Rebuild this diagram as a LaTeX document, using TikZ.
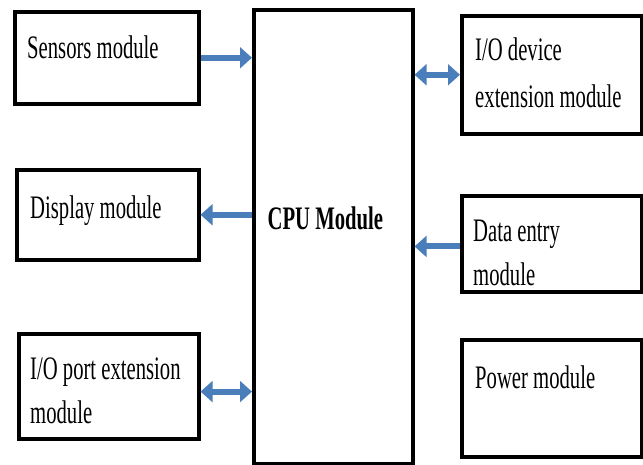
\documentclass[tikz,border=0pt]{standalone}
\usepackage{fontspec}
\setmainfont{Liberation Serif}[FakeStretch=0.63]
\usetikzlibrary{positioning,arrows.meta}
\definecolor{linkblue}{RGB}{74,126,187}
\tikzset{
    modbox/.style={draw, line width=3pt, minimum width=5.4cm, anchor=north west, inner sep=0pt},
    modlabel/.style={anchor=north west, align=left, inner sep=0pt, font=\fontsize{28}{37}\selectfont},
    flow/.style={draw=linkblue, line width=5pt, -{Triangle[length=0.36cm, width=0.62cm]}},
    flowboth/.style={draw=linkblue, line width=5pt, {Triangle[length=0.36cm, width=0.62cm]}-{Triangle[length=0.36cm, width=0.62cm]}}
}

\begin{document}
\begin{tikzpicture}
    \useasboundingbox (0,0) rectangle (19.29,-13.95);

    % left column
    \node[modbox, minimum width=5.52cm, minimum height=2.76cm] (sensors) at (0.39,-0.30) {};
    \node[modbox, minimum width=5.46cm, minimum height=2.70cm] (display) at (0.45,-5.04) {};
    \node[modbox, minimum width=5.40cm, minimum height=3.15cm] (ioport) at (0.51,-9.96) {};

    % centre
    \node[modbox, minimum width=4.77cm, minimum height=13.62cm] (cpu) at (7.56,-0.24) {};

    % right column
    \node[modbox, minimum height=3.54cm] (iodev) at (13.80,-0.42) {};
    \node[modbox, minimum height=2.88cm] (dataentry) at (13.80,-5.82) {};
    \node[modbox, minimum height=3.51cm] (power) at (13.80,-10.14) {};

    % texts
    \node[modlabel] (sensorstext) at ([xshift=0.42cm, yshift=-0.78cm]sensors.north west) {Sensors module};
    \node[modlabel] (displaytext) at ([xshift=0.45cm, yshift=-0.84cm]display.north west) {Display module};
    \node[modlabel] (ioporttext) at ([xshift=0.39cm, yshift=-0.78cm]ioport.north west) {I/O port extension\\module};
    \node[modlabel, font=\fontsize{28}{37}\selectfont\bfseries, anchor=center] (cputext) at (9.76,-6.54) {CPU Module};
    \node[modlabel] (iodevtext) at ([xshift=0.45cm, yshift=-0.72cm]iodev.north west) {I/O device\\[0.1cm]extension module};
    \node[modlabel] (dataentrytext) at ([xshift=0.39cm, yshift=-0.78cm]dataentry.north west) {Data entry\\module};
    \node[modlabel] (powertext) at ([xshift=0.45cm, yshift=-0.84cm]power.north west) {Power module};

    % links
    \draw[flow] (sensors.east) -- (sensors.east -| cpu.west);
    \draw[flowboth] (iodev.west -| cpu.east) -- (iodev.west);
    \draw[flow] (display.east -| cpu.west) -- (display.east);
    \draw[flow] ([yshift=-0.08cm]dataentry.west) -- ([yshift=-0.08cm]dataentry.west -| cpu.east);
    \draw[flowboth] ([yshift=-0.16cm]ioport.east) -- ([yshift=-0.16cm]ioport.east -| cpu.west);
\end{tikzpicture}
\end{document}
